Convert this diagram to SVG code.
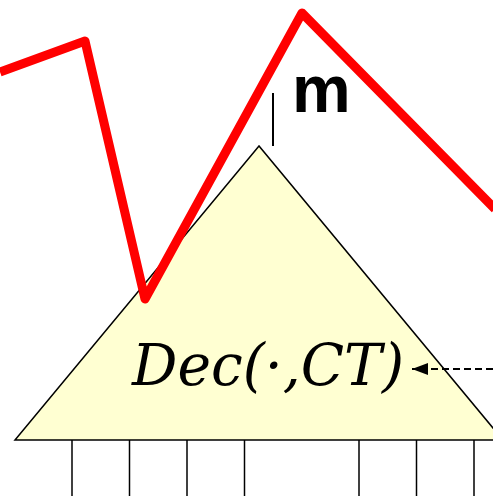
<svg xmlns="http://www.w3.org/2000/svg" width="493" height="496" viewBox="0 0 493 496">
<style>
.tick{stroke:#000;stroke-width:1.5}
</style>
<defs>
<marker id="ah" markerWidth="16" markerHeight="12" refX="16" refY="6" orient="auto" markerUnits="userSpaceOnUse">
<path d="M0,0 L16,6 L0,12 Z" fill="#000"/>
</marker>
</defs>
<rect width="493" height="496" fill="#fff"/>
<g id="decoder">
<polygon points="259,146 15,440 503,440" fill="#ffffd2" stroke="#000" stroke-width="1.5"/>
<text x="132" y="385" font-family="'DejaVu Serif', 'Liberation Serif', serif" font-style="italic" font-size="57" textLength="272" lengthAdjust="spacingAndGlyphs">Dec(·,CT)</text>
</g>
<g id="ticks">
<line class="tick" x1="72" y1="440" x2="72" y2="496"/>
<line class="tick" x1="129.5" y1="440" x2="129.5" y2="496"/>
<line class="tick" x1="187" y1="440" x2="187" y2="496"/>
<line class="tick" x1="244.5" y1="440" x2="244.5" y2="496"/>
<line class="tick" x1="359" y1="440" x2="359" y2="496"/>
<line class="tick" x1="416.5" y1="440" x2="416.5" y2="496"/>
<line class="tick" x1="474" y1="440" x2="474" y2="496"/>
</g>
<g id="connectors">
<polyline points="0,72 85,41 145,299 302,13 495,209" fill="none" stroke="#ff0000" stroke-width="9" stroke-linejoin="round"/>
<line x1="273" y1="93" x2="273" y2="146" stroke="#000" stroke-width="2"/>
<line x1="493" y1="369" x2="412" y2="369" stroke="#000" stroke-width="2" stroke-dasharray="7,4" marker-end="url(#ah)"/>
</g>
<g id="label-m">
<text x="292" y="112" font-family="'Liberation Sans', Arial, sans-serif" font-weight="bold" font-size="66">m</text>
</g>
</svg>
